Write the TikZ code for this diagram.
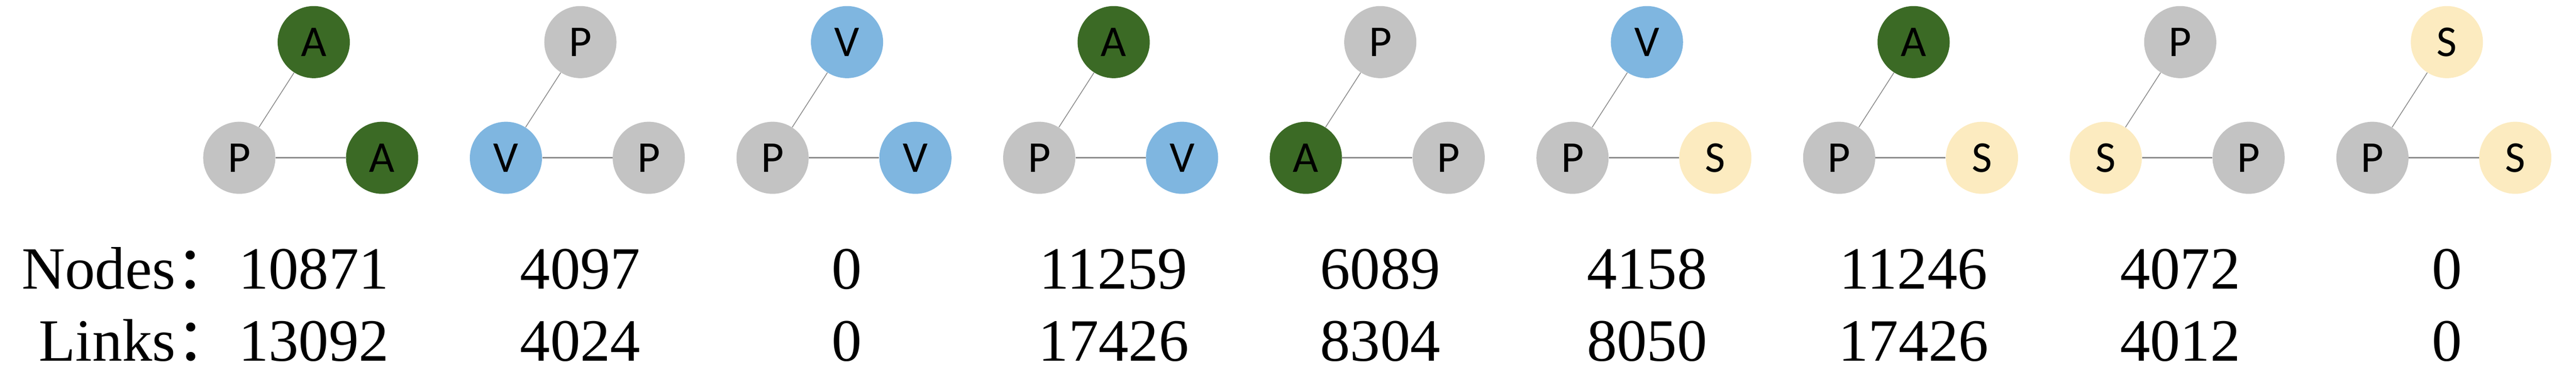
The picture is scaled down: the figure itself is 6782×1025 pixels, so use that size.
\documentclass[tikz,border=0pt]{standalone}
\usepackage{fontspec}
\setmainfont{Liberation Serif}
\newfontfamily\cjk{Noto Sans CJK SC}
\newfontfamily\lbl{Carlito}
\definecolor{cA}{HTML}{3B6A25}
\definecolor{cP}{HTML}{C3C3C3}
\definecolor{cV}{HTML}{7FB6E0}
\definecolor{cS}{HTML}{FCEBC0}
\tikzset{
 vtx/.style={circle,minimum size=190*0.01cm,inner sep=0pt,font=\lbl\fontsize{33}{36}\selectfont},
 edg/.style={draw=gray!90,line width=1.2pt},
 num/.style={font=\fontsize{45}{50}\selectfont,anchor=base},
}
\begin{document}
\begin{tikzpicture}[x=0.01cm,y=-0.01cm]
\useasboundingbox (0,0) rectangle (6782,1025);
\foreach \i/\t/\l/\r/\ct/\cl/\cr/\n/\k in {
 0/A/P/A/cA/cP/cA/10871/13092,
 1/P/V/P/cP/cV/cP/4097/4024,
 2/V/P/V/cV/cP/cV/0/0,
 3/A/P/V/cA/cP/cV/11259/17426,
 4/P/A/P/cP/cA/cP/6089/8304,
 5/V/P/S/cV/cP/cS/4158/8050,
 6/A/P/S/cA/cP/cS/11246/17426,
 7/P/S/P/cP/cS/cP/4072/4012,
 8/S/P/S/cS/cP/cS/0/0}{
 \pgfmathsetmacro\ox{630+702*\i}
 \node[vtx,fill=\ct] (t\i) at (\ox+196,111) {\t};
 \node[vtx,fill=\cl] (l\i) at (\ox,416) {\l};
 \node[vtx,fill=\cr] (r\i) at (\ox+376,416) {\r};
 \draw[edg,line width=0.6pt] (l\i) -- (t\i);
 \draw[edg] (l\i) -- (r\i);
 \node[num] (n\i) at (\ox+196,761) {\n};
 \node[num] (k\i) at (\ox+196,951) {\k};
}
\node[num,anchor=base west] (nl) at (45,761) {Nodes{\cjk ：}};
\node[num,anchor=base west] (ll) at (90,951) {Links{\cjk ：}};
\end{tikzpicture}
\end{document}
